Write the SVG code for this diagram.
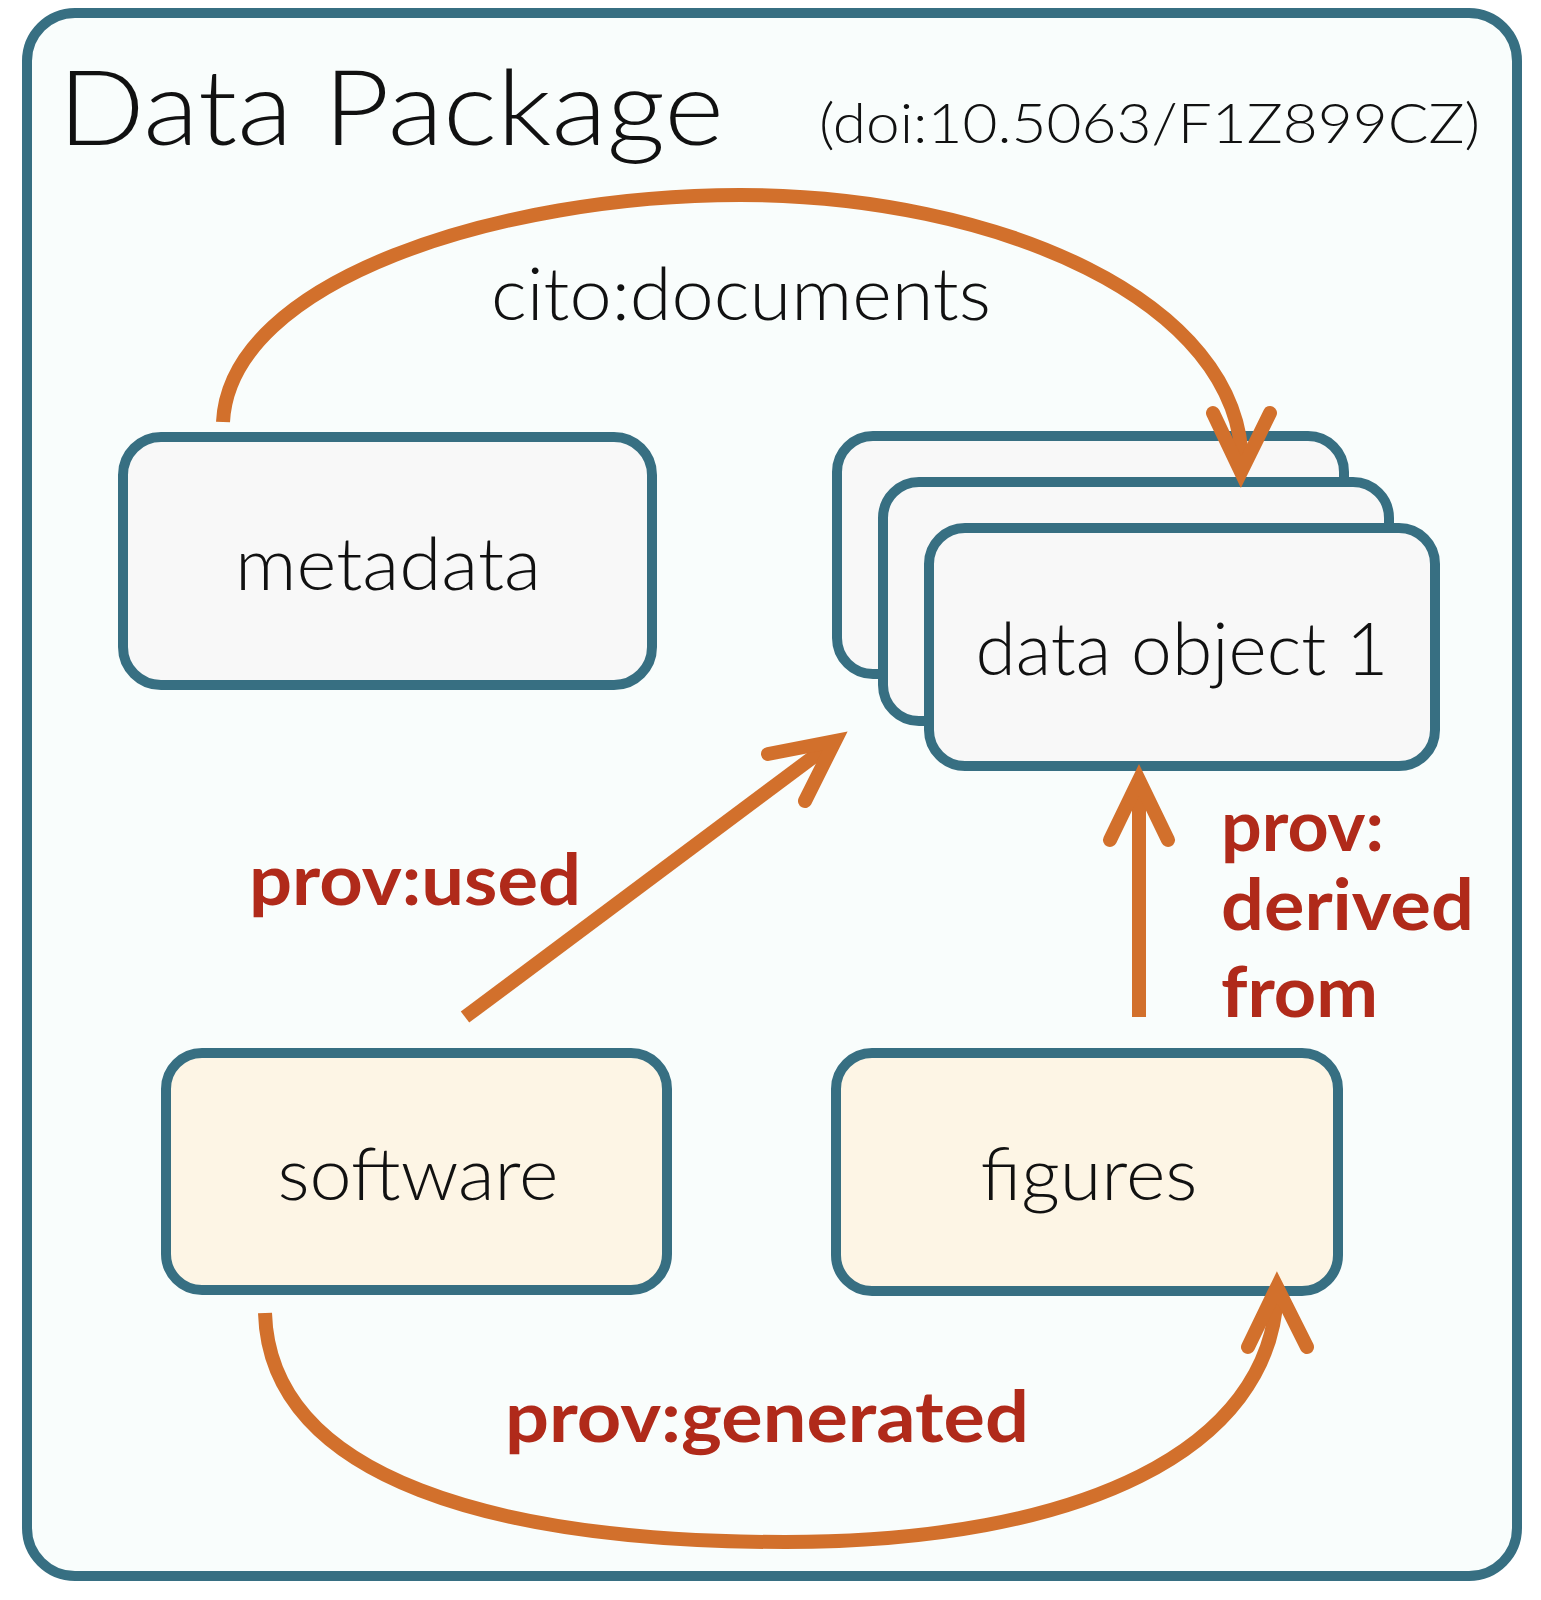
<svg xmlns="http://www.w3.org/2000/svg" width="1541" height="1600" viewBox="0 0 1541 1600">
  <style>
    .node { stroke: #376f82; stroke-width: 10; }
    .gray { fill: #f8f8f8; }
    .cream { fill: #fdf5e5; }
    .lbl { font-family: Lato, "Open Sans", "Liberation Sans", sans-serif; font-weight: 300; fill: #111111; }
    .node-text { font-size: 72px; text-anchor: middle; }
    .rel { font-family: Lato, "Open Sans", "Liberation Sans", sans-serif; font-weight: 700; fill: #b02a1a; font-size: 70px; }
    .edge { fill: none; stroke: #d2702c; stroke-width: 14; }
    .head { fill: none; stroke: #d2702c; stroke-width: 14; stroke-linecap: round; stroke-linejoin: miter; stroke-miterlimit: 10; }
  </style>
  <rect width="1541" height="1600" fill="#ffffff"/>
  <g id="package">
    <rect x="27" y="13" width="1490" height="1563" rx="48" ry="48" fill="#f9fdfc" stroke="#376f82" stroke-width="10"/>
    <text class="lbl" x="58" y="145" font-size="104" textLength="666" lengthAdjust="spacingAndGlyphs">Data Package</text>
    <text class="lbl" x="819" y="143" font-size="55" textLength="661" lengthAdjust="spacingAndGlyphs">(doi:10.5063/F1Z899CZ)</text>
  </g>
  <g id="metadata">
    <rect class="node gray" x="123" y="437" width="529" height="248" rx="38" ry="38"/>
    <text class="lbl node-text" x="388" y="590" textLength="306" lengthAdjust="spacingAndGlyphs">metadata</text>
  </g>
  <g id="data-objects">
    <rect class="node gray" x="837" y="436" width="507" height="238" rx="36" ry="36"/>
    <rect class="node gray" x="883" y="482" width="506" height="239" rx="36" ry="36"/>
    <rect class="node gray" x="929" y="528" width="506" height="238" rx="36" ry="36"/>
    <text class="lbl node-text" x="1182" y="675" textLength="413" lengthAdjust="spacingAndGlyphs">data object 1</text>
  </g>
  <g id="software">
    <rect class="node cream" x="166" y="1053" width="501" height="237" rx="36" ry="36"/>
    <text class="lbl node-text" x="418" y="1200" textLength="281" lengthAdjust="spacingAndGlyphs">software</text>
  </g>
  <g id="figures">
    <rect class="node cream" x="836" y="1053" width="502" height="238" rx="36" ry="36"/>
    <text class="lbl node-text" x="1089" y="1200" textLength="217" lengthAdjust="spacingAndGlyphs">figures</text>
  </g>
  <g id="connectors">
    <path class="edge" d="M223,422 C230,280 500,195 740,195 C995,195 1243,300 1242,466"/>
    <polyline class="head" points="1213,413 1241,472 1270,413"/>
    <text class="lbl" x="491" y="320" font-size="72" textLength="500" lengthAdjust="spacingAndGlyphs">cito:documents</text>

    <path class="edge" d="M465,1017 L832,743"/>
    <polyline class="head" points="768,754 835,741 805,801"/>
    <text class="rel" x="249" y="905" textLength="332" lengthAdjust="spacingAndGlyphs">prov:used</text>

    <path class="edge" d="M1139,1017 L1139,786"/>
    <polyline class="head" points="1110,840 1139,780 1168,840"/>
    <text class="rel" x="1221" y="851" textLength="163" lengthAdjust="spacingAndGlyphs">prov:</text>
    <text class="rel" x="1221" y="930" textLength="253" lengthAdjust="spacingAndGlyphs">derived</text>
    <text class="rel" x="1221" y="1017" textLength="157" lengthAdjust="spacingAndGlyphs">from</text>

    <path class="edge" d="M265,1313 C270,1480 500,1542 785,1542 C1080,1542 1272,1450 1277,1292"/>
    <polyline class="head" points="1248,1347 1277,1287 1307,1347"/>
    <text class="rel" x="505" y="1442" textLength="524" lengthAdjust="spacingAndGlyphs">prov:generated</text>
  </g>
</svg>
